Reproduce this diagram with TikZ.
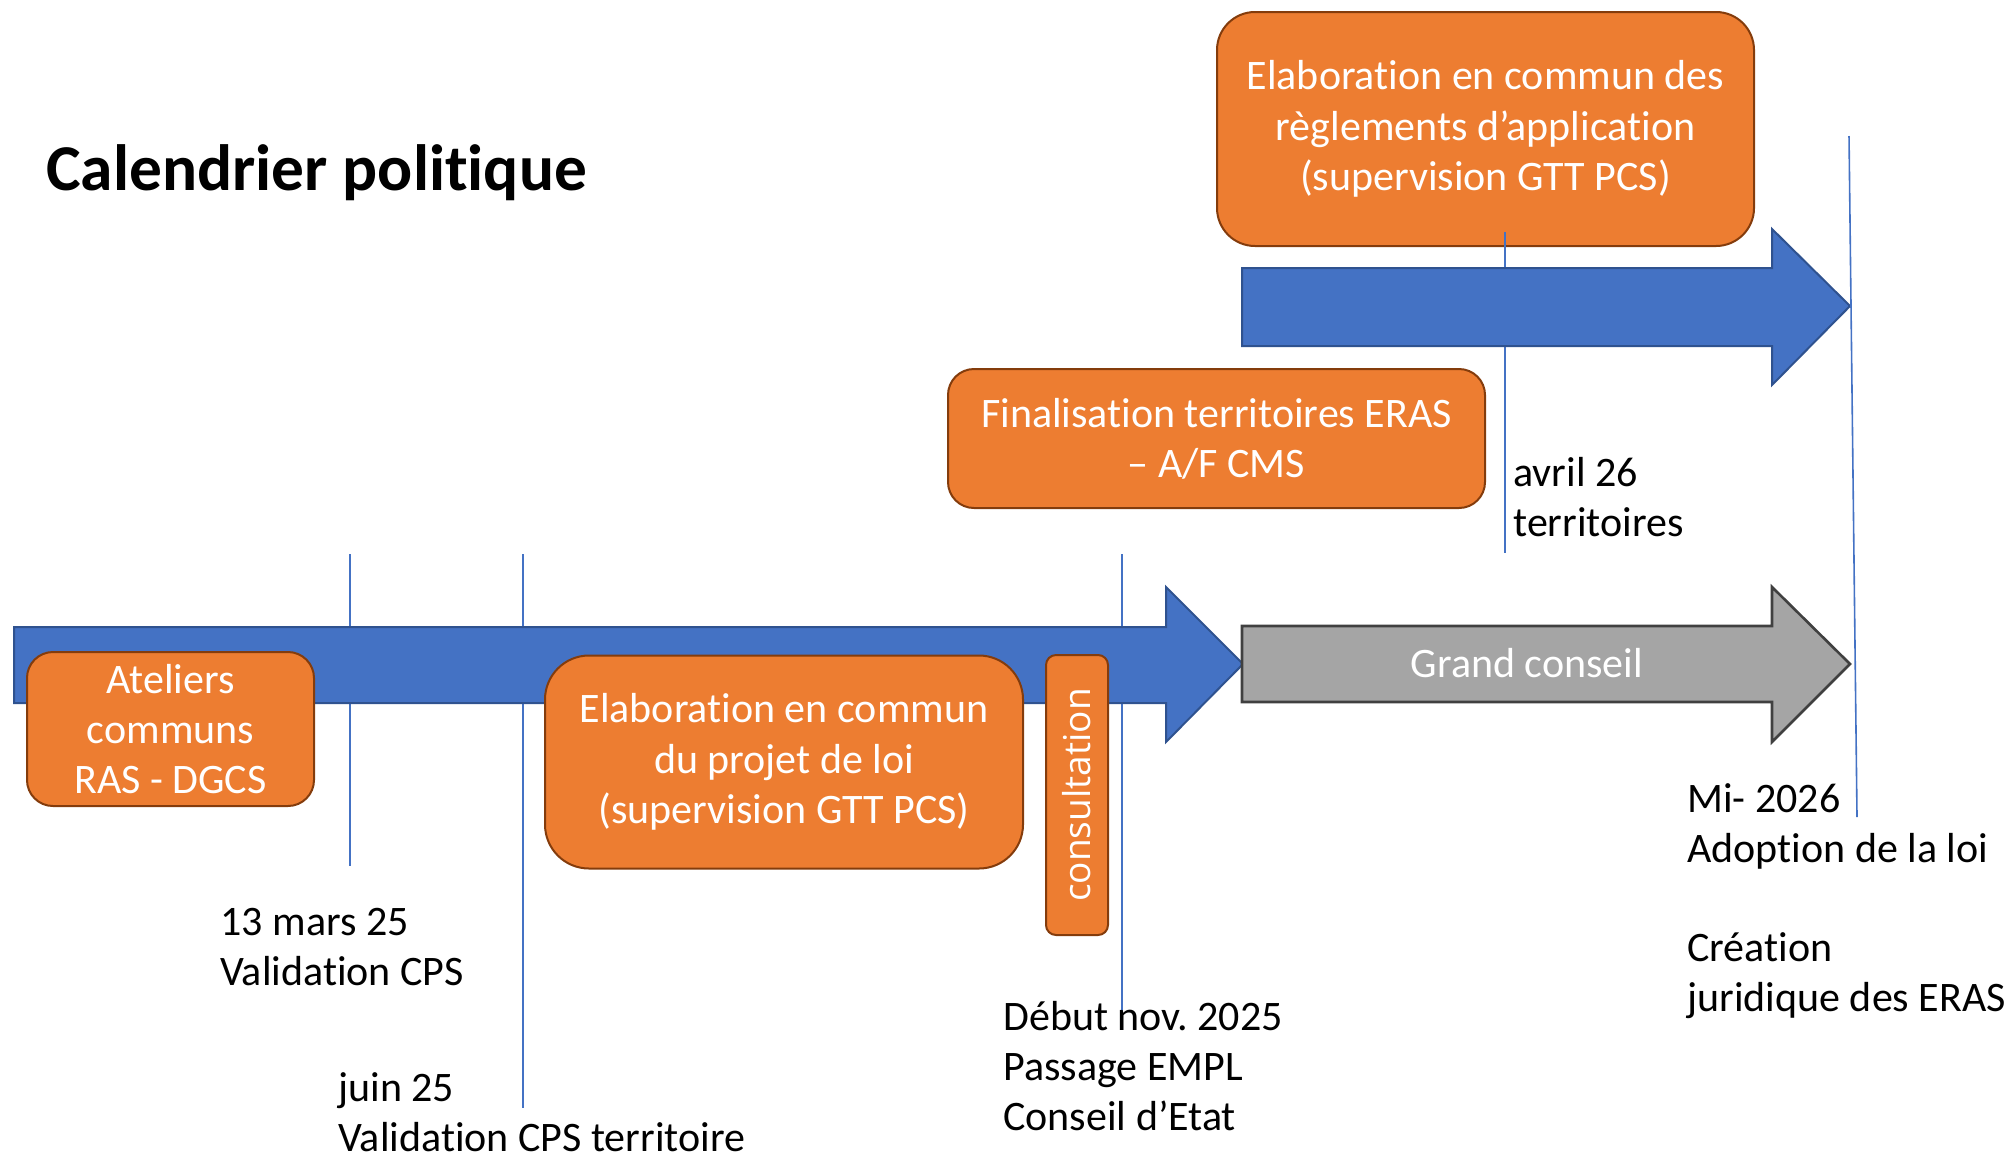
\documentclass[tikz,border=0pt]{standalone}
\usepackage{fontspec}
\setmainfont{Carlito}[Ligatures=NoCommon]
\newfontfamily\consfont{Open Sans}
\frenchspacing
\definecolor{orangefill}{HTML}{ED7D31}
\definecolor{orangeline}{HTML}{843C0C}
\definecolor{bluefill}{HTML}{4472C4}
\definecolor{blueline}{HTML}{2F528F}
\definecolor{greyfill}{HTML}{A5A5A5}
\definecolor{greyline}{HTML}{404040}
\begin{document}
\begin{tikzpicture}[x=0.5pt,y=-0.5pt,
  bodyfont/.style={font=\fontsize{21}{24.8}\selectfont},
  boxfont/.style={font=\fontsize{21}{25.2}\selectfont},
  obox/.style={draw=orangeline, line width=1pt, fill=orangefill, text=white,
    align=center, inner sep=0pt, boxfont},
  datetext/.style={text=black, align=left, inner sep=0pt, anchor=base west, bodyfont},
  tickline/.style={draw=bluefill, line width=0.8pt},
  bluearrow/.style={fill=bluefill, draw=blueline, line width=1pt, line join=miter},
  greyarrow/.style={fill=greyfill, draw=greyline, line width=1.3pt, line join=miter}]
\useasboundingbox (0,0) rectangle (2011,1158);

% title
\node[inner sep=0pt, anchor=base west, font=\fontsize{32.7}{40}\selectfont\bfseries] (title) at (46,190) {Calendrier politique};

% timeline ticks (behind main arrow)
\coordinate (t1a) at (350,554); \coordinate (t1b) at (350,866);
\coordinate (t2a) at (523,554); \coordinate (t2b) at (523,1108);
\coordinate (t3a) at (1122,554); \coordinate (t3b) at (1122,1028);
\draw[tickline] (t1a) -- (t1b);
\draw[tickline] (t2a) -- (t2b);
\draw[tickline] (t3a) -- (t3b);

% main blue arrow
\draw[bluearrow] (14,627) -- (1166,627) -- (1166,587) -- (1243,664) -- (1166,742) -- (1166,703) -- (14,703) -- cycle;
% grey arrow
\draw[greyarrow] (1242,626) -- (1772,626) -- (1772,587) -- (1850,664) -- (1772,742) -- (1772,702) -- (1242,702) -- cycle;
\node[inner sep=0pt, anchor=base, text=white, bodyfont] (gc) at (1527,677) {Grand conseil};

% top box and avril tick
\node[obox, rounded corners=19pt, minimum width=268.5pt, minimum height=117pt] (regl) at (1485.5,129)
  {Elaboration en commun des\\règlements d’application\\(supervision GTT PCS)};
\coordinate (t4a) at (1505,232); \coordinate (t4b) at (1505,553);
\draw[tickline] (t4a) -- (t4b);
% top blue arrow
\draw[bluearrow] (1242,268) -- (1772,268) -- (1772,229) -- (1850,306) -- (1772,385) -- (1772,346) -- (1242,346) -- cycle;

% boxes
\node[obox, rounded corners=13pt, minimum width=268.5pt, minimum height=69.5pt] (final) at (1216.5,438.5)
  {Finalisation territoires ERAS\\– A/F CMS};
\node[obox, rounded corners=13pt, minimum width=143.5pt, minimum height=77pt] (ateliers) at (170.5,729)
  {Ateliers\\communs\\RAS - DGCS};
\node[obox, rounded corners=22pt, minimum width=239pt, minimum height=106.5pt] (projet) at (784,762)
  {Elaboration en commun\\du projet de loi\\(supervision GTT PCS)};
\node[obox, rotate=90, rounded corners=5pt, minimum width=140pt, minimum height=31pt,
  font=\consfont\fontsize{18.5}{22}\selectfont] (consult) at (1077,795) {consultation};

% right tick
\coordinate (t5a) at (1849,136); \coordinate (t5b) at (1857,817);
\draw[tickline] (t5a) -- (t5b);

% date texts (anchored at the baseline of their last line)
\node[datetext] (d1) at (220,985) {13 mars 25\\Validation CPS};
\node[datetext] (d2) at (338,1151) {juin 25\\Validation CPS territoire};
\node[datetext] (d3) at (1003,1130) {Début nov. 2025\\Passage EMPL\\Conseil d’Etat};
\node[datetext] (d4) at (1513,536) {avril 26\\territoires};
\node[datetext] (d5) at (1687,1011) {Mi- 2026\\Adoption de la loi\\[24.8pt]Création\\juridique des ERAS};
\end{tikzpicture}
\end{document}
